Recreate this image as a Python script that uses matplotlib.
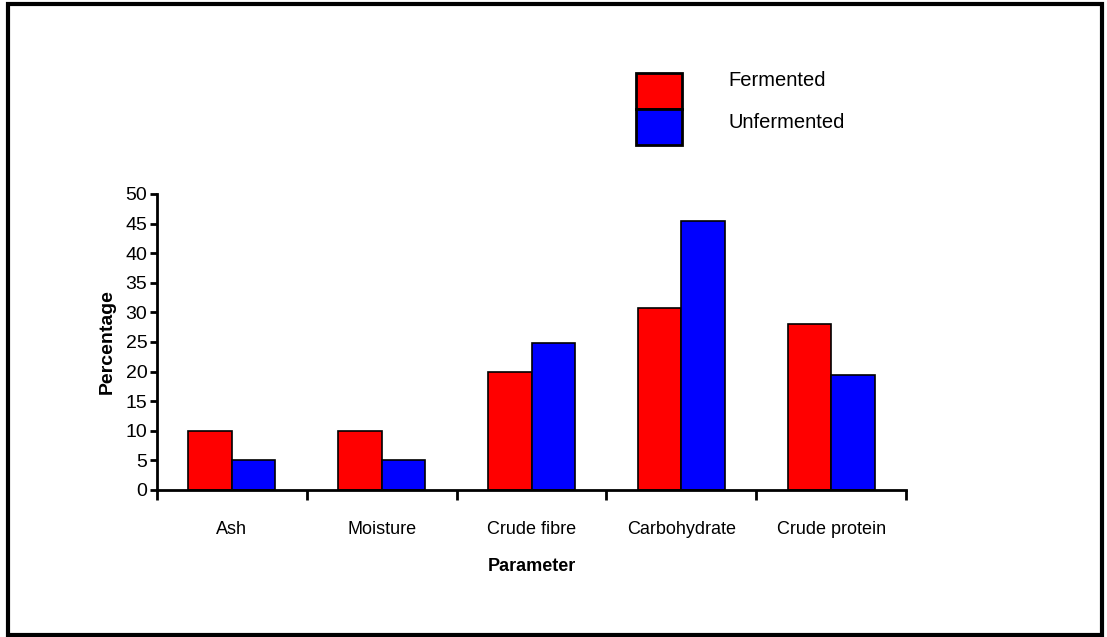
import matplotlib.pyplot as plt
from matplotlib.patches import Rectangle
import numpy as np

categories = ["Ash", "Moisture", "Crude fibre", "Carbohydrate", "Crude protein"]
fermented = [10, 10, 20, 30.7, 28]
unfermented = [5, 5, 24.8, 45.5, 19.4]
series_names = ["Fermented", "Unfermented"]
colors = ["#ff0000", "#0000ff"]

plt.rcParams['font.family'] = ['Liberation Sans', 'DejaVu Sans']

fig = plt.figure(figsize=(11.07, 6.37), dpi=100)
ax = fig.add_axes([157 / 1107, 1 - 490 / 637, 749 / 1107, 296 / 637])

x = np.arange(len(categories))
w = 0.29
ax.bar(x - w / 2, fermented, w, color=colors[0], edgecolor='black', linewidth=1.2)
ax.bar(x + w / 2, unfermented, w, color=colors[1], edgecolor='black', linewidth=1.2)

ax.set_xlim(-0.5, len(categories) - 0.5)
ax.set_ylim(0, 50)
ax.set_yticks(range(0, 51, 5))
ax.set_xticks(np.arange(-0.5, len(categories), 1))
ax.set_xticklabels([])
ax.set_xticks(x, minor=True)
ax.set_xticklabels(categories, minor=True)
ax.tick_params(axis='x', which='major', direction='out', length=7, width=2)
ax.tick_params(axis='x', which='minor', length=0, labelsize=13, pad=22)
ax.tick_params(axis='y', direction='out', length=5, width=2, labelsize=14, pad=2)

for s in ['top', 'right']:
    ax.spines[s].set_visible(False)
for s in ['left', 'bottom']:
    ax.spines[s].set_linewidth(2)

ax.set_xlabel("Parameter", fontsize=13, fontweight='bold', labelpad=15)
ax.set_ylabel("Percentage", fontsize=14, fontweight='bold', labelpad=7)

# legend drawn as stacked swatches
for i, (name, c) in enumerate(zip(series_names, colors)):
    y0 = 1 - (109 + 36 * i) / 637
    fig.add_artist(Rectangle((636 / 1107, y0), 46 / 1107, 36 / 637, transform=fig.transFigure,
                             facecolor=c, edgecolor='black', linewidth=2))
    fig.text(728 / 1107, 1 - (80 + 42 * i) / 637, name, fontsize=14.5, va='center', ha='left')

# outer frame
fig.add_artist(Rectangle((8 / 1107, 2 / 637), 1094 / 1107, 631 / 637, transform=fig.transFigure,
                         fill=False, edgecolor='black', linewidth=3))

fig.savefig("out.png", dpi=100)
